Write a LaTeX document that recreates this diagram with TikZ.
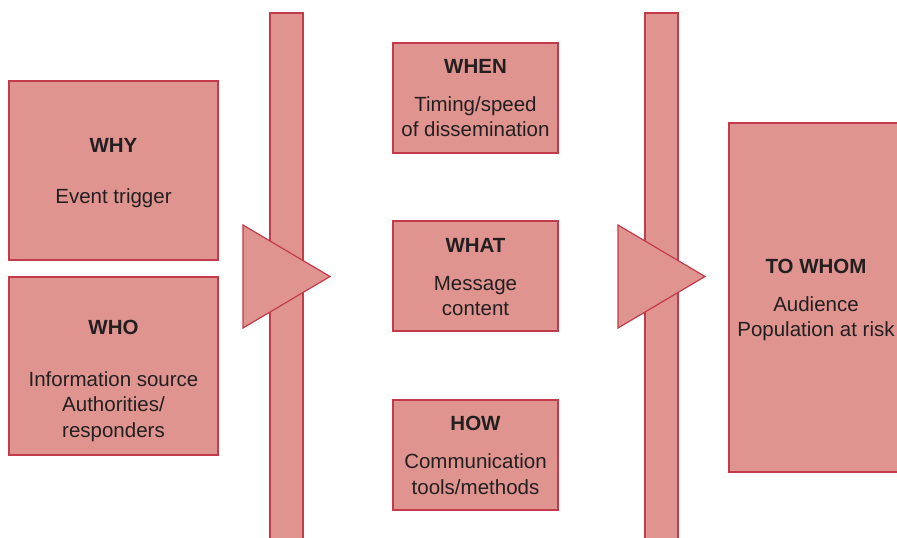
\documentclass[tikz,border=0pt]{standalone}
\usepackage{fontspec}
\setmainfont{Liberation Sans}
\definecolor{boxfill}{HTML}{DF948F}
\definecolor{boxline}{HTML}{C33A4B}
\definecolor{ink}{HTML}{231F20}
\begin{document}
\begin{tikzpicture}[x=1pt,y=-1pt,
  panel/.style={draw=boxline, fill=boxfill, line width=1.2pt},
  heading/.style={font=\fontsize{20.5}{25}\selectfont\bfseries, text=ink, anchor=base, inner sep=0pt},
  line/.style={font=\fontsize{20.5}{25}\selectfont, text=ink, anchor=base, inner sep=0pt}]
\clip (0,0) rectangle (897,538);
\fill[white] (0,0) rectangle (897,538);

% vertical bars
\draw[panel] (270,13) rectangle (303,560);
\draw[panel] (645,13) rectangle (678,560);

% arrow heads sitting on the bars
\draw[panel, line join=miter] (243,225) -- (330,276.5) -- (243,328) -- cycle;
\draw[panel, line join=miter] (618,225) -- (705,276.5) -- (618,328) -- cycle;

% left column
\draw[panel] (9,81) rectangle (218,260);
\node[heading] (why) at (113.5,152) {WHY};
\node[line] (whyb) at (113.5,203) {Event trigger};

\draw[panel] (9,277) rectangle (218,455);
\node[heading] (who) at (113.5,334) {WHO};
\node[line] (who1) at (113.5,386) {Information source};
\node[line] (who2) at (113.5,411) {Authorities/};
\node[line] (who3) at (113.5,437) {responders};

% middle column
\draw[panel] (393,43) rectangle (558,153);
\node[heading] (when) at (475.5,73) {WHEN};
\node[line] (when1) at (475.5,111) {Timing/speed};
\node[line] (when2) at (475.5,136) {of dissemination};

\draw[panel] (393,221) rectangle (558,331);
\node[heading] (what) at (475.5,252) {WHAT};
\node[line] (what1) at (475.5,290) {Message};
\node[line] (what2) at (475.5,315) {content};

\draw[panel] (393,400) rectangle (558,510);
\node[heading] (how) at (475.5,430) {HOW};
\node[line] (how1) at (475.5,468) {Communication};
\node[line] (how2) at (475.5,494) {tools/methods};

% right column
\draw[panel] (729,123) rectangle (903,472);
\node[heading] (whom) at (816,273) {TO WHOM};
\node[line] (whom1) at (816,311) {Audience};
\node[line] (whom2) at (816,336) {Population at risk};
\end{tikzpicture}
\end{document}
